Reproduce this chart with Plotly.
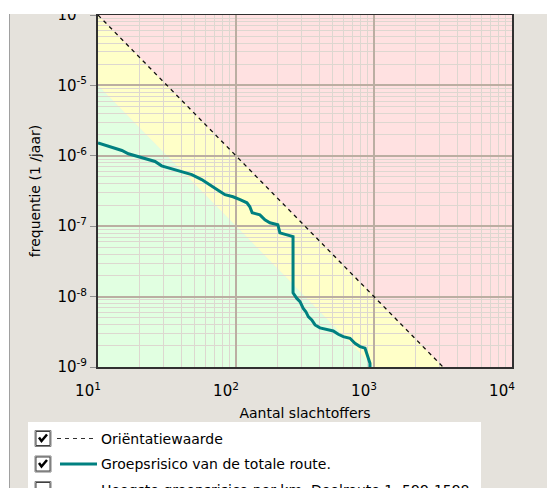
import plotly.graph_objects as go

# ---------------- data ----------------
# Groepsrisico van de totale route (N = aantal slachtoffers, F = frequentie per jaar)
N_total = [10, 11.9, 13.3, 14.9, 16.6, 19.6, 23.1, 25.9, 28.9, 34.2, 40.4, 47.8, 56.4,
           64.8, 70.4, 76.6, 83.2, 95.1, 107, 120, 126, 131, 149, 162, 176, 201, 208,
           238, 259, 259, 275, 291, 299, 307, 321, 334, 354, 374, 406, 454, 507, 551,
           599, 670, 728, 792, 861, 885, 909, 935, 935]
F_total = [1.52e-6, 1.36e-6, 1.29e-6, 1.19e-6, 1.07e-6, 9.8e-7, 9.0e-7, 8.3e-7, 7.2e-7,
           6.5e-7, 6.0e-7, 5.4e-7, 4.6e-7, 3.9e-7, 3.5e-7, 3.12e-7, 2.8e-7, 2.62e-7,
           2.38e-7, 2.15e-7, 1.89e-7, 1.55e-7, 1.45e-7, 1.23e-7, 1.12e-7, 1.05e-7,
           8.05e-8, 7.55e-8, 7.1e-8, 1.13e-8, 9.5e-9, 8.5e-9, 7.6e-9, 6.8e-9, 6.1e-9,
           5.2e-9, 4.67e-9, 3.96e-9, 3.6e-9, 3.44e-9, 3.25e-9, 2.92e-9, 2.7e-9, 2.56e-9,
           2.17e-9, 1.95e-9, 1.85e-9, 1.57e-9, 1.33e-9, 1.13e-9, 0.9e-9]

# Orientatiewaarde (boundary red / yellow)
orient_N = [10, 3162]
orient_F = [1e-4, 1e-9]
# boundary yellow / green
green_N = [10, 1000]
green_F = [1e-5, 1e-9]

x_tickvals = [10, 100, 1000, 10000]
x_ticktext = ["10<sup>1</sup>", "10<sup>2</sup>", "10<sup>3</sup>", "10<sup>4</sup>"]
y_tickvals = [1e-9, 1e-8, 1e-7, 1e-6, 1e-5, 1e-4]
y_ticktext = ["10<sup>-9</sup>", "10<sup>-8</sup>", "10<sup>-7</sup>", "10<sup>-6</sup>",
              "10<sup>-5</sup>", "10<sup>-4</sup>"]

legend_labels = ["Oriëntatiewaarde", "Groepsrisico van de totale route.",
                 "Hoogste groepsrisico per km. Deelroute 1, 599-1598"]
legend_checked = [True, True, False]

# ---------------- styling ----------------
W, H = 547, 488
ML, MR, MT, MB = 98, 35, 15, 121
PW, PH = W - ML - MR, H - MT - MB
FONT = "DejaVu Sans"
PANEL = "#E5E2DC"
PINK, YELLOW, GREEN = "#FFE1E1", "#FFFFC8", "#E1FFE1"
MAJOR, MINOR = "#BBAEA2", "#DDD7D0"
TEAL, CYAN = "#008080", "#00FFFF"


def px(xp):
    return (xp - ML) / PW


def py(yp):
    return (H - MB - yp) / PH


fig = go.Figure()

fig.add_trace(go.Scatter(x=orient_N, y=orient_F, mode="lines",
                         line=dict(color="#101010", width=1.3, dash="4px,4px"),
                         name=legend_labels[0], showlegend=False, hoverinfo="skip"))
fig.add_trace(go.Scatter(x=N_total, y=F_total, mode="lines",
                         line=dict(color=TEAL, width=3),
                         name=legend_labels[1], showlegend=False))

shapes = []
# coloured zones (below gridlines)
ymin = y_tickvals[0]
yellow_path = (f"M {orient_N[0]},{orient_F[0]} L {orient_N[1]},{orient_F[1]} "
               f"L {green_N[1]},{green_F[1]} L {green_N[0]},{green_F[0]} Z")
green_path = (f"M {green_N[0]},{green_F[0]} L {green_N[1]},{green_F[1]} "
              f"L {green_N[0]},{ymin} Z")
shapes.append(dict(type="path", xref="x", yref="y", path=yellow_path,
                   fillcolor=YELLOW, line=dict(width=0), layer="below"))
shapes.append(dict(type="path", xref="x", yref="y", path=green_path,
                   fillcolor=GREEN, line=dict(width=0), layer="below"))

# window chrome: white strip on top and left edge
shapes.append(dict(type="rect", xref="paper", yref="paper", x0=px(-20), x1=px(W + 20),
                   y0=py(14), y1=py(-20), fillcolor="white", line=dict(width=0), layer="above"))
shapes.append(dict(type="rect", xref="paper", yref="paper", x0=px(-20), x1=px(9),
                   y0=py(H + 20), y1=py(-20), fillcolor="white", line=dict(width=0), layer="above"))
shapes.append(dict(type="line", xref="paper", yref="paper", x0=px(9.5), x1=px(9.5),
                   y0=py(14), y1=py(H + 5), line=dict(color="#A0A0A0", width=1), layer="above"))

# legend panel
shapes.append(dict(type="rect", xref="paper", yref="paper", x0=px(28), x1=px(481),
                   y0=py(H + 20), y1=py(422), fillcolor="white", line=dict(width=0), layer="above"))

annotations = []
rows = [438.5, 464.0, 489.5]
sample_styles = [dict(color="#303030", width=1, dash="4px,4px"),
                 dict(color=TEAL, width=3),
                 dict(color=CYAN, width=3)]
for yc, lab, chk, st in zip(rows, legend_labels, legend_checked, sample_styles):
    # checkbox
    shapes.append(dict(type="rect", xref="paper", yref="paper", x0=px(35), x1=px(51),
                       y0=py(yc + 8), y1=py(yc - 8), fillcolor="white",
                       line=dict(color="#808080", width=1), layer="above"))
    shapes.append(dict(type="rect", xref="paper", yref="paper", x0=px(36), x1=px(50),
                       y0=py(yc + 7), y1=py(yc - 7), fillcolor="white",
                       line=dict(color="#404040", width=1), layer="above"))
    if chk:
        path = (f"M {px(39)},{py(yc - 1)} L {px(41.5)},{py(yc + 2.5)} "
                f"L {px(47)},{py(yc - 4)}")
        shapes.append(dict(type="path", xref="paper", yref="paper", path=path,
                           line=dict(color="black", width=2.5), layer="above"))
    x0s = 57 if st.get("dash") else 60
    shapes.append(dict(type="line", xref="paper", yref="paper", x0=px(x0s), x1=px(97),
                       y0=py(yc), y1=py(yc), line=st, layer="above"))
    annotations.append(dict(xref="paper", yref="paper", x=px(98.5), y=py(yc),
                            xanchor="left", yanchor="middle", text=lab, showarrow=False,
                            font=dict(family=FONT, size=14, color="black")))

fig.update_layout(
    width=W, height=H,
    margin=dict(l=ML, r=MR, t=MT, b=MB, autoexpand=False),
    paper_bgcolor=PANEL, plot_bgcolor=PINK,
    font=dict(family=FONT, size=14, color="black"),
    showlegend=False,
    shapes=shapes, annotations=annotations,
)

fig.update_xaxes(
    type="log", range=[1, 4], tickmode="array", tickvals=x_tickvals, ticktext=x_ticktext,
    showgrid=True, gridcolor=MAJOR, gridwidth=1.5,
    minor=dict(showgrid=True, gridcolor=MINOR, gridwidth=1, dtick="D1"),
    showline=True, linecolor="#303030", linewidth=2, mirror=True, zeroline=False,
    ticks="", ticklabelshift=-10, ticklabelstandoff=9,
    tickfont=dict(family=FONT, size=15, color="black"),
    title=dict(text="Aantal slachtoffers", standoff=9, font=dict(family=FONT, size=14)),
)
fig.update_yaxes(
    type="log", range=[-9, -4], tickmode="array", tickvals=y_tickvals, ticktext=y_ticktext,
    showgrid=True, gridcolor=MAJOR, gridwidth=1.5,
    minor=dict(showgrid=True, gridcolor=MINOR, gridwidth=1, dtick="D1"),
    showline=True, linecolor="#303030", linewidth=2, mirror=True, zeroline=False,
    ticks="outside", ticklen=6, tickcolor="#909090", tickwidth=1,
    tickfont=dict(family=FONT, size=15, color="black"),
    title=dict(text="frequentie (1 /jaar)", standoff=14, font=dict(family=FONT, size=14)),
)

fig.write_html("out.html", config={"displayModeBar": False},
               post_script="document.body.style.margin='0px';")
